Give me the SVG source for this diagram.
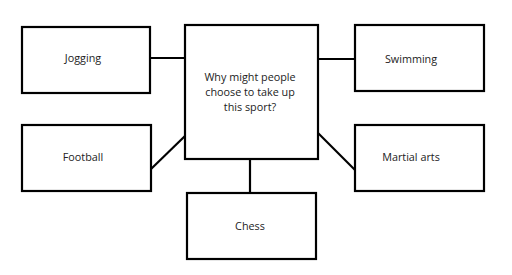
<svg xmlns="http://www.w3.org/2000/svg" width="512" height="275" viewBox="0 0 512 275">
<style>
.box{fill:#fff;stroke:#000;stroke-width:2.2}
.lbl{font-family:"Open Sans","Noto Sans",sans-serif;font-size:10.8px;fill:#222;text-anchor:middle}
.con{stroke:#000;stroke-width:2.2;fill:none}
</style>
<rect width="512" height="275" fill="#fff"/>
<g id="connectors">
<line class="con" x1="150" y1="58" x2="185" y2="58"/>
<line class="con" x1="318" y1="59" x2="355" y2="59"/>
<line class="con" x1="151" y1="169" x2="185" y2="136"/>
<line class="con" x1="318" y1="133" x2="355" y2="170"/>
<line class="con" x1="250" y1="159" x2="250" y2="193"/>
</g>
<g id="center">
<rect class="box" x="185" y="25" width="133" height="134"/>
<text class="lbl" x="250" y="81">Why might people</text>
<text class="lbl" x="250" y="96">choose to take up</text>
<text class="lbl" x="250" y="111">this sport?</text>
</g>
<g id="jogging">
<rect class="box" x="22" y="27" width="128" height="66"/>
<text class="lbl" x="83" y="62">Jogging</text>
</g>
<g id="swimming">
<rect class="box" x="355" y="25" width="129" height="66"/>
<text class="lbl" x="411" y="63">Swimming</text>
</g>
<g id="football">
<rect class="box" x="22" y="125" width="129" height="66"/>
<text class="lbl" x="83" y="161">Football</text>
</g>
<g id="martial">
<rect class="box" x="355" y="125" width="129" height="66"/>
<text class="lbl" x="411" y="161">Martial arts</text>
</g>
<g id="chess">
<rect class="box" x="187" y="193" width="129" height="66"/>
<text class="lbl" x="250" y="230">Chess</text>
</g>
</svg>
